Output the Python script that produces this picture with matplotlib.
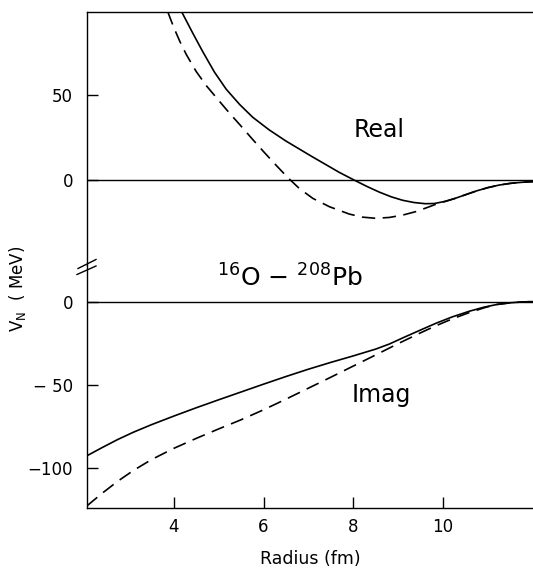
import matplotlib
matplotlib.use('Agg')
import matplotlib.pyplot as plt
from matplotlib.lines import Line2D

# Real part of the nuclear potential (MeV) vs radius (fm)
real_solid_r = [4.18, 4.43, 4.65, 4.91, 5.17, 5.47, 5.76, 6.13, 6.50, 7.07, 7.69, 8.02,
                8.30, 8.58, 8.85, 9.10, 9.35, 9.60, 9.80, 10.05, 10.25, 10.50, 10.75,
                11.0, 11.25, 11.5, 11.75, 12.0]
real_solid_v = [99, 86.3, 75.5, 63.5, 53.5, 44.5, 37, 29.5, 23, 14, 4.5, 0,
                -3.7, -7.1, -9.9, -11.9, -13.2, -13.9, -13.8, -12.5, -10.9, -8.6, -6.3,
                -4.4, -2.9, -1.9, -1.3, -0.9]

real_dash_r = [3.87, 4.0, 4.14, 4.28, 4.5, 4.73, 5.0, 5.24, 5.5, 5.75, 6.0, 6.25, 6.54,
               6.8, 7.1, 7.47, 7.91, 8.2, 8.5, 8.8, 9.1, 9.4, 9.69, 9.9, 10.05,
               10.25, 10.50, 10.75, 11.0, 11.25, 11.5, 11.75, 12.0]
real_dash_v = [99, 90, 81.5, 74, 64, 55.5, 47, 39.5, 31.8, 24.2, 16.8, 9.6, 1.5,
               -5.0, -10.8, -15.7, -20.0, -21.8, -22.5, -22.0, -20.6, -18.5, -15.7, -13.6, -12.5,
               -10.9, -8.6, -6.3, -4.4, -2.9, -1.9, -1.3, -0.9]

# Imaginary part
imag_solid_r = [2.07, 2.4, 2.75, 3.1, 3.5, 4.0, 4.5, 5.0, 5.5, 6.0, 6.5, 7.0, 7.5, 8.0,
                8.5, 8.8, 9.1, 9.4, 9.84, 10.2, 10.58, 10.9, 11.2, 11.5, 11.75, 12.0]
imag_solid_v = [-92.6, -87.8, -82.9, -78.5, -74.0, -68.8, -63.8, -59, -54.3, -49.6, -45,
                -40.6, -36.5, -32.6, -28.5, -25.5, -21.8, -18.2, -13, -9.2, -5.8, -3.4,
                -1.7, -0.7, -0.2, 0]

imag_dash_r = [2.07, 2.4, 2.75, 3.1, 3.5, 4.0, 4.5, 5.0, 5.5, 6.0, 6.5, 7.0, 7.5, 8.0,
               8.5, 9.0, 9.5, 9.84, 10.2, 10.58, 10.95, 11.2, 11.5, 11.75, 12.0]
imag_dash_v = [-122.7, -115.3, -108, -101.5, -95, -88.2, -82.2, -76.5, -71, -65, -58.6,
               -52, -45.4, -38.7, -32, -25.2, -18.7, -14.5, -10.4, -6.6, -3.4, -1.7,
               -0.7, -0.2, 0]

x_ticks = [4, 6, 8, 10]
top_ticks = [0, 50]
top_tick_labels = ['0', '50']
bot_ticks = [-100, -50, 0]
bot_tick_labels = ['\u2212100', '\u2212 50', '0']

W, H = 533, 569
fig = plt.figure(figsize=(W / 100, H / 100), dpi=100)
plt.rcParams['font.family'] = ['DejaVu Sans']

left = 87 / W
width = 1 - left
y_top, y_mid, y_bot = 1 - 12 / H, 1 - 265 / H, 1 - 508 / H

ax_top = fig.add_axes([left, y_mid, width, y_top - y_mid])
ax_bot = fig.add_axes([left, y_bot, width, y_mid - y_bot])

line_kw = dict(color='black', lw=1.2)
dash_kw = dict(color='black', lw=1.2, dashes=(8, 4.5))

ax_top.plot(real_solid_r, real_solid_v, **line_kw)
ax_top.plot(real_dash_r, real_dash_v, **dash_kw)
ax_bot.plot(imag_solid_r, imag_solid_v, **line_kw)
ax_bot.plot(imag_dash_r, imag_dash_v, **dash_kw)

for ax in (ax_top, ax_bot):
    ax.axhline(0, color='black', lw=1.0)
    ax.set_xlim(2.07, 12.0)
    ax.spines['right'].set_visible(False)
    for s in ax.spines.values():
        s.set_linewidth(1.0)
    ax.tick_params(direction='in', length=8, width=1.0, labelsize=12, pad=10)

ax_top.set_ylim(-50, 99)
ax_bot.set_ylim(-124, 22)

ax_top.spines['bottom'].set_visible(False)
ax_bot.spines['top'].set_visible(False)

ax_top.set_xticks([])
ax_top.set_yticks(top_ticks)
ax_top.set_yticklabels(top_tick_labels)
ax_bot.set_yticks(bot_ticks)
ax_bot.set_yticklabels(bot_tick_labels)
ax_bot.set_xticks(x_ticks)
ax_bot.set_xticklabels([str(t) for t in x_ticks])
ax_bot.tick_params(axis='x', pad=7)

ax_bot.set_xlabel('Radius (fm)', fontsize=12.5, labelpad=10)

# labels inside panels
ax_top.text(8.58, 29.4, 'Real', ha='center', va='center', fontsize=17)
ax_bot.text(8.62, -56, 'Imag', ha='center', va='center', fontsize=17)

fig.text(290 / W, 1 - 278 / H, r'$^{16}$O $-$ $^{208}$Pb', ha='center', va='center',
         fontsize=18)
fig.text(17 / W, 1 - 289 / H, r'V$_\mathregular{N}$  ( MeV)', rotation=90,
         ha='center', va='center', fontsize=12)

# axis break marks on the left spine
for (x0, y0, x1, y1) in [(78, 268.5, 96, 259.5), (77, 274.5, 96, 266)]:
    fig.add_artist(Line2D([x0 / W, x1 / W], [1 - y0 / H, 1 - y1 / H],
                          color='black', lw=1.0, transform=fig.transFigure))

fig.savefig('out.png', dpi=100, facecolor='white')
